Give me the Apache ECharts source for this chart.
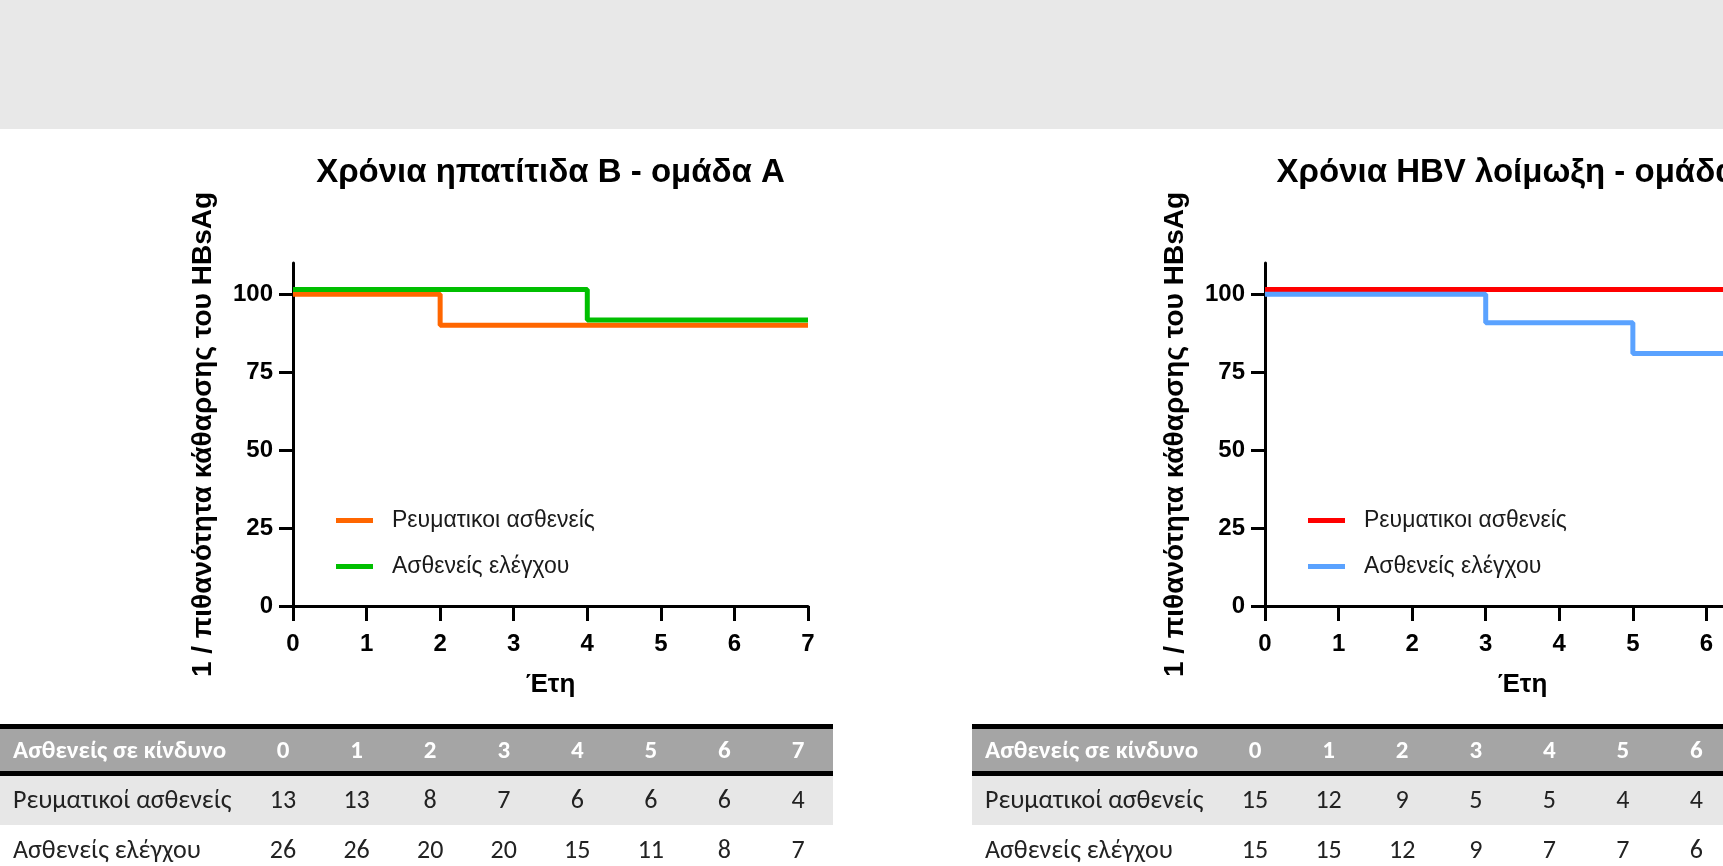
<!DOCTYPE html>
<html><head><meta charset="utf-8">
<script src="https://cdn.jsdelivr.net/npm/echarts@6/dist/echarts.min.js"></script>
<style>html,body{margin:0;padding:0;background:#fff;overflow:hidden}#c{width:1723px;height:866px}</style>
</head><body><div id="c"></div>
<script>
// ---- data ----
const years = [0, 1, 2, 3, 4, 5, 6, 7];
const yTicks = [0, 25, 50, 75, 100];
const titleA = 'Χρόνια ηπατίτιδα Β - ομάδα Α';
const titleB = 'Χρόνια HBV λοίμωξη - ομάδα Β';
const yName = '1 / πιθανότητα κάθαρσης του HBsAg';
const xName = 'Έτη';
const legendNames = ['Ρευματικοι ασθενείς', 'Ασθενείς ελέγχου'];
// Kaplan–Meier step points (time, value as drawn)
const aRheumT = [0, 2, 7];       const aRheumS = [100, 90, 90];
const aCtrlT  = [0, 4, 7];       const aCtrlS  = [101.5, 91.7, 91.7];
const bRheumT = [0, 7];          const bRheumS = [101.5, 101.5];
const bCtrlT  = [0, 3, 5, 7];    const bCtrlS  = [100, 90.8, 81, 81];
// at-risk table
const tableHeader = 'Ασθενείς σε κίνδυνο';
const rowNames = ['Ρευματικοί ασθενείς', 'Ασθενείς ελέγχου'];
const aRiskRheum = [13, 13, 8, 7, 6, 6, 6, 4];
const aRiskCtrl  = [26, 26, 20, 20, 15, 11, 8, 7];
const bRiskRheum = [15, 12, 9, 5, 5, 4, 4];
const bRiskCtrl  = [15, 15, 12, 9, 7, 7, 6];

// ---- chart ----
const chart = echarts.init(document.getElementById('c'), null, {renderer: 'canvas'});
const AX = 'Liberation Sans, Arial, sans-serif';
const TF = 'Carlito, Open Sans, sans-serif';
const pairs = (t, s) => t.map((v, i) => [v, s[i]]);

function xAxis(gi) {
  return {
    type: 'value', gridIndex: gi, min: 0, max: 7, interval: 1,
    name: xName, nameLocation: 'middle', nameGap: 66,
    nameTextStyle: {fontFamily: AX, fontWeight: 'bold', fontSize: 26, color: '#000'},
    axisLine: {lineStyle: {color: '#000', width: 3}},
    axisTick: {length: 15, lineStyle: {color: '#000', width: 3}},
    axisLabel: {fontFamily: AX, fontWeight: 'bold', fontSize: 24, color: '#000', margin: 26},
    splitLine: {show: false}
  };
}
function yAxis(gi) {
  return {
    type: 'value', gridIndex: gi, min: 0, max: 110,
    name: yName, nameLocation: 'middle', nameGap: 76,
    nameTextStyle: {fontFamily: AX, fontWeight: 'bold', fontSize: 28, color: '#000'},
    axisLine: {show: true, lineStyle: {color: '#000', width: 3}},
    axisTick: {show: true, length: 14, customValues: yTicks, lineStyle: {color: '#000', width: 3}},
    axisLabel: {fontFamily: AX, fontWeight: 'bold', fontSize: 24, color: '#000', margin: 20, customValues: yTicks},
    splitLine: {show: false}
  };
}
function line(name, gi, data, color) {
  return {
    name: name, type: 'line', xAxisIndex: gi, yAxisIndex: gi, step: 'end',
    symbol: 'none', data: data, silent: true, animation: false,
    lineStyle: {color: color, width: 5}, itemStyle: {color: color}
  };
}
function legend(prefix, left) {
  return {
    data: legendNames.map(n => prefix + '|' + n), orient: 'vertical', padding: 0,
    left: left, top: 508, icon: 'rect', itemWidth: 37, itemHeight: 5, itemGap: 21,
    selectedMode: false, formatter: n => n.split('|')[1],
    textStyle: {fontFamily: AX, fontSize: 23, color: '#1a1a1a', padding: [0, 0, 0, 14], lineHeight: 25}
  };
}

chart.setOption({
  animation: false,
  backgroundColor: '#fff',
  grid: [
    {left: 293, width: 515, top: 263, height: 343, outerBoundsMode: 'none', containLabel: false},
    {left: 1265, width: 515, top: 263, height: 343, outerBoundsMode: 'none', containLabel: false}
  ],
  xAxis: [xAxis(0), xAxis(1)],
  yAxis: [yAxis(0), yAxis(1)],
  legend: [legend('A', 336), legend('B', 1308)],
  series: [
    line('A|' + legendNames[0], 0, pairs(aRheumT, aRheumS), '#ff6600'),
    line('A|' + legendNames[1], 0, pairs(aCtrlT, aCtrlS), '#00bf00'),
    line('B|' + legendNames[0], 1, pairs(bRheumT, bRheumS), '#ff0000'),
    line('B|' + legendNames[1], 1, pairs(bCtrlT, bCtrlS), '#5aa2ff')
  ]
});

// ---- titles, band and at-risk tables placed from the axis scales ----
const g = [{type: 'rect', shape: {x: 0, y: 0, width: 1723, height: 129}, style: {fill: '#e8e8e8'}, z: -10}];
function panel(gi, title, riskR, riskC) {
  const px = v => chart.convertToPixel({xAxisIndex: gi}, v);
  const x0 = px(0), x7 = px(7);
  g.push({type: 'text', x: (x0 + x7) / 2, y: 173, style: {text: title, align: 'center', verticalAlign: 'middle',
    font: 'bold 33px ' + AX, fill: '#000'}});
  const tl = x0 - 293, tw = 833;
  g.push({type: 'rect', shape: {x: tl, y: 724, width: tw, height: 5}, style: {fill: '#000'}});
  g.push({type: 'rect', shape: {x: tl, y: 729, width: tw, height: 42}, style: {fill: '#a5a5a5'}});
  g.push({type: 'rect', shape: {x: tl, y: 771, width: tw, height: 5}, style: {fill: '#000'}});
  g.push({type: 'rect', shape: {x: tl, y: 776, width: tw, height: 49}, style: {fill: '#e7e7e7'}});
  const hf = '600 25px ' + TF, rf = '26px ' + TF;
  g.push({type: 'text', x: tl + 13, y: 752, style: {text: tableHeader, verticalAlign: 'middle', font: hf, fill: '#fff'}});
  g.push({type: 'text', x: tl + 13, y: 801, style: {text: rowNames[0], verticalAlign: 'middle', font: rf, fill: '#222'}});
  g.push({type: 'text', x: tl + 13, y: 851, style: {text: rowNames[1], verticalAlign: 'middle', font: rf, fill: '#222'}});
  years.forEach((yv, i) => {
    const cx = px(yv) - 10;
    g.push({type: 'text', x: cx, y: 752, style: {text: String(yv), align: 'center', verticalAlign: 'middle', font: hf, fill: '#fff'}});
    if (i < riskR.length) g.push({type: 'text', x: cx, y: 801, style: {text: String(riskR[i]), align: 'center', verticalAlign: 'middle', font: rf, fill: '#222'}});
    if (i < riskC.length) g.push({type: 'text', x: cx, y: 851, style: {text: String(riskC[i]), align: 'center', verticalAlign: 'middle', font: rf, fill: '#222'}});
  });
}
panel(0, titleA, aRiskRheum, aRiskCtrl);
panel(1, titleB, bRiskRheum, bRiskCtrl);
chart.setOption({graphic: g});
</script>
</body></html>
